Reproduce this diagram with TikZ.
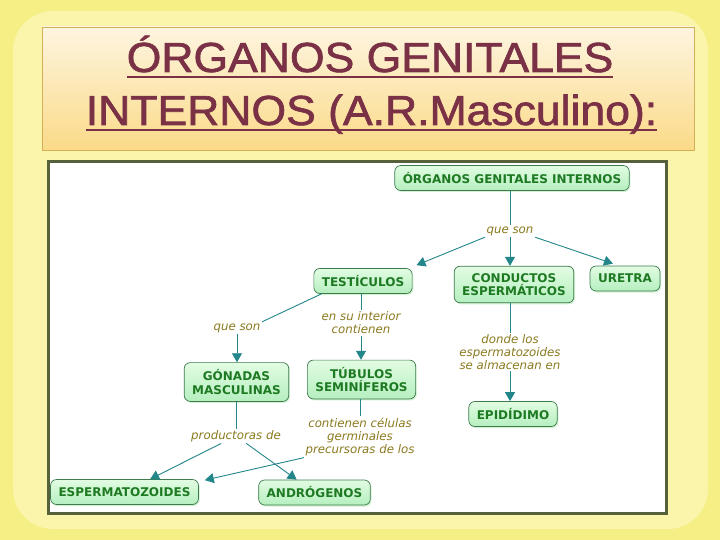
\documentclass[tikz,border=0pt]{standalone}
\usepackage{fontspec}
\setmainfont{DejaVu Sans}
\newfontfamily\titlefont[FakeBold=1.5]{Liberation Sans}
\usetikzlibrary{arrows.meta,shadows,calc}
\definecolor{outerbg}{HTML}{F6EF85}
\definecolor{panelbg}{HTML}{FAF5AB}
\definecolor{ttop}{HTML}{FEF5E0}
\definecolor{tbot}{HTML}{FBDA88}
\definecolor{tborder}{HTML}{D2B057}
\definecolor{tcolor}{HTML}{7A3146}
\definecolor{frame}{HTML}{56603A}
\definecolor{cborder}{HTML}{3E7A4E}
\definecolor{ctop}{HTML}{E2FCE2}
\definecolor{cbot}{HTML}{B5EFBF}
\definecolor{ctext}{HTML}{1E7A22}
\definecolor{cshadow}{HTML}{C9EEC9}
\definecolor{ltext}{HTML}{8A7A1E}
\definecolor{teal1}{HTML}{22868A}
\begin{document}
\begin{tikzpicture}[x=1pt,y=-1pt,
  concept/.style={draw=cborder, line width=0.7pt, rounded corners=6pt,
    top color=ctop, bottom color=cbot, text=ctext,
    font=\fontsize{12}{13.5}\selectfont\bfseries, align=center,
    inner xsep=8pt, inner ysep=5.5pt, minimum height=25pt,
    drop shadow={fill=cshadow, opacity=0.8, shadow xshift=1.2pt, shadow yshift=-1.5pt}},
  concepttwo/.style={concept, inner ysep=7pt},
  lbl/.style={text=ltext, font=\fontsize{11.8}{13}\selectfont\itshape, align=center, inner sep=1.5pt},
  con/.style={draw=teal1, line width=0.9pt},
  arr/.style={con, -{Triangle[width=10pt,length=9pt]}}]
\useasboundingbox (0,0) rectangle (720,540);
% background
\fill[outerbg] (0,0) rectangle (720,540);
\fill[panelbg, rounded corners=40pt] (13,11) rectangle (708,529);
% title box
\shade[top color=ttop, bottom color=tbot, draw=tborder, line width=0.8pt] (42,27) rectangle (694,150);
\node[anchor=base, inner sep=0pt, text=tcolor] (t1) at (370,72) {\titlefont\fontsize{42}{42}\selectfont\scalebox{1.06}[1]{ÓRGANOS GENITALES}};
\node[anchor=base, inner sep=0pt, text=tcolor] (t2) at (371.5,125) {\titlefont\fontsize{42}{42}\selectfont\scalebox{1.06}[1]{INTERNOS (A.R.Masculino):}};
\draw[tcolor, line width=2.2pt] ($(t1.base west)+(0,5)$) -- ($(t1.base east)+(0,5)$);
\draw[tcolor, line width=2.2pt] ($(t2.base west)+(0,5)$) -- ($(t2.base east)+(0,5)$);
% diagram frame
\draw[frame, line width=3pt, fill=white] (48,162) rectangle (666,513);
% concepts
\node[concept] (ogi) at (512,178) {ÓRGANOS GENITALES INTERNOS};
\node[concept] (tes) at (363,281) {TESTÍCULOS};
\node[concepttwo] (cdt) at (514,284.5) {CONDUCTOS\\ESPERMÁTICOS};
\node[concept] (ure) at (625,278.5) {URETRA};
\node[concepttwo] (gon) at (236.5,382) {GÓNADAS\\MASCULINAS};
\node[concepttwo] (tub) at (361.5,379.5) {TÚBULOS\\SEMINÍFEROS};
\node[concept] (epi) at (513,414) {EPIDÍDIMO};
\node[concept] (esp) at (124.5,492) {ESPERMATOZOIDES};
\node[concept] (and) at (314.5,492.5) {ANDRÓGENOS};
% link labels
\node[lbl] (qs1) at (510,231) {que son};
\node[lbl] (esi) at (361,323) {en su interior\\contienen};
\node[lbl] (qs2) at (237,328) {que son};
\node[lbl] (dlo) at (510,352) {donde los\\espermatozoides\\se almacenan en};
\node[lbl] (pro) at (236,436) {productoras de};
\node[lbl] (ccg) at (360,437) {contienen células\\germinales\\precursoras de los};
% connectors
\draw[con] (qs1.north |- ogi.south) -- (qs1.north);
\draw[arr] (qs1.south west) -- ($(tes.north east)+(4,-3)$);
\draw[arr] (qs1.south) -- (qs1.south |- cdt.north);
\draw[arr] (qs1.south east) -- ($(ure.north)+(-12,-2)$);
\draw[con] (esi.north |- tes.south) -- (esi.north);
\draw[arr] (esi.south) -- (esi.south |- tub.north);
\draw[con] ($(tes.south west)+(8,0)$) -- (qs2.north east);
\draw[arr] (qs2.south) -- (qs2.south |- gon.north);
\draw[con] (dlo.north |- cdt.south) -- (dlo.north);
\draw[arr] (dlo.south) -- (dlo.south |- epi.north);
\draw[con] (pro.north |- gon.south) -- (pro.north);
\draw[arr] (pro) -- (esp);
\draw[arr] (pro) -- (and);
\draw[con] (ccg.north |- tub.south) -- (ccg.north);
\draw[arr] (ccg.south west) -- ($(esp.north east)+(6,1)$);
\end{tikzpicture}
\end{document}
